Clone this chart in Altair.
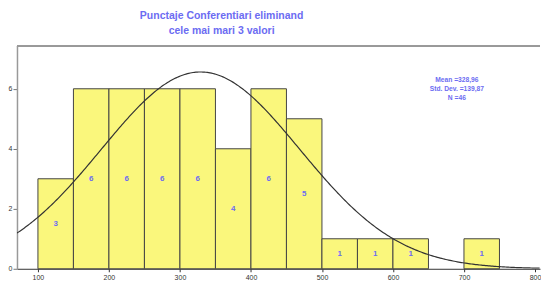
import altair as alt
import pandas as pd

# Histogram bins (lower edges) and counts
bin_start = [100, 150, 200, 250, 300, 350, 400, 450, 500, 550, 600, 700]
counts = [3, 6, 6, 6, 6, 4, 6, 5, 1, 1, 1, 1]
bin_width = 50

mean_val = 328.96
sd_val = 139.87
n_val = 46

title_lines = ["Punctaje Conferentiari eliminand", "cele mai mari 3 valori"]
stats_lines = ["Mean =328,96", "Std. Dev. =139,87", "N =46"]
stats_y = [6.3, 6.0, 5.7]
stats_x = 690

x_ticks = list(range(100, 801, 50))
y_ticks = [0, 2, 4, 6]

X_DOMAIN = [70.5, 807.1]
Y_DOMAIN = [0, 7.42]
W, H = 524, 223

BLUE = "#6c6cf2"
FONT = "Liberation Sans"

bars = pd.DataFrame({
    "start": bin_start,
    "end": [b + bin_width for b in bin_start],
    "mid": [b + bin_width / 2 for b in bin_start],
    "count": counts,
    "half": [c / 2 for c in counts],
})
stats = pd.DataFrame({"txt": stats_lines, "y": stats_y, "x": [stats_x] * len(stats_lines)})

xs = alt.Scale(domain=X_DOMAIN, nice=False, zero=False)
ys = alt.Scale(domain=Y_DOMAIN, nice=False)

x_axis = alt.Axis(values=x_ticks, title=None, labelFontSize=7, labelFont=FONT,
                  labelColor="#333", tickColor="#333", tickSize=3, labelPadding=2,
                  domainColor="#333", domainWidth=1, grid=False, labelFlush=False)
y_axis = alt.Axis(values=y_ticks, title=None, labelFontSize=7, labelFont=FONT,
                  labelColor="#333", tickColor="#777", tickSize=4, labelPadding=1,
                  domainColor="#999", domainWidth=1.5, grid=False)

rects = alt.Chart(bars).mark_rect(fill="#faf77c", stroke="#444", strokeWidth=1).encode(
    x=alt.X("start:Q", scale=xs, axis=x_axis),
    x2="end:Q",
    y=alt.Y("count:Q", scale=ys, axis=y_axis),
    y2=alt.datum(0),
)

labels = alt.Chart(bars).mark_text(color=BLUE, fontSize=8, fontWeight="bold", font=FONT).encode(
    x=alt.X("mid:Q", scale=xs),
    y=alt.Y("half:Q", scale=ys),
    text="count:Q",
)

curve = alt.Chart(alt.sequence(start=X_DOMAIN[0], stop=X_DOMAIN[1] + 1, step=2, as_="v")).transform_calculate(
    dens=f"{n_val}*{bin_width}/({sd_val}*sqrt(2*PI))*exp(-0.5*pow((datum.v-{mean_val})/{sd_val},2))"
).mark_line(color="#333", strokeWidth=1.2, clip=True).encode(
    x=alt.X("v:Q", scale=xs),
    y=alt.Y("dens:Q", scale=ys),
)

stat_text = alt.Chart(stats).mark_text(color=BLUE, fontSize=6.7, fontWeight="bold", font=FONT).encode(
    x=alt.X("x:Q", scale=xs),
    y=alt.Y("y:Q", scale=ys),
    text="txt:N",
)

top_border = alt.Chart(bars).mark_rule(color="#999", strokeWidth=1.5).encode(
    x=alt.value(0), x2=alt.value(W), y=alt.value(0)
)

chart = alt.layer(rects, curve, labels, stat_text, top_border).properties(
    width=W, height=H,
    padding={"left": 0, "top": 2, "right": 0, "bottom": 0},
    title=alt.TitleParams(text=title_lines, color=BLUE, fontSize=10.5, fontWeight="bold",
                          font=FONT, lineHeight=15, anchor="middle", dx=-57, offset=9),
).configure_view(stroke=None)

chart.save("out.html", embed_options={"renderer": "svg", "actions": False})
